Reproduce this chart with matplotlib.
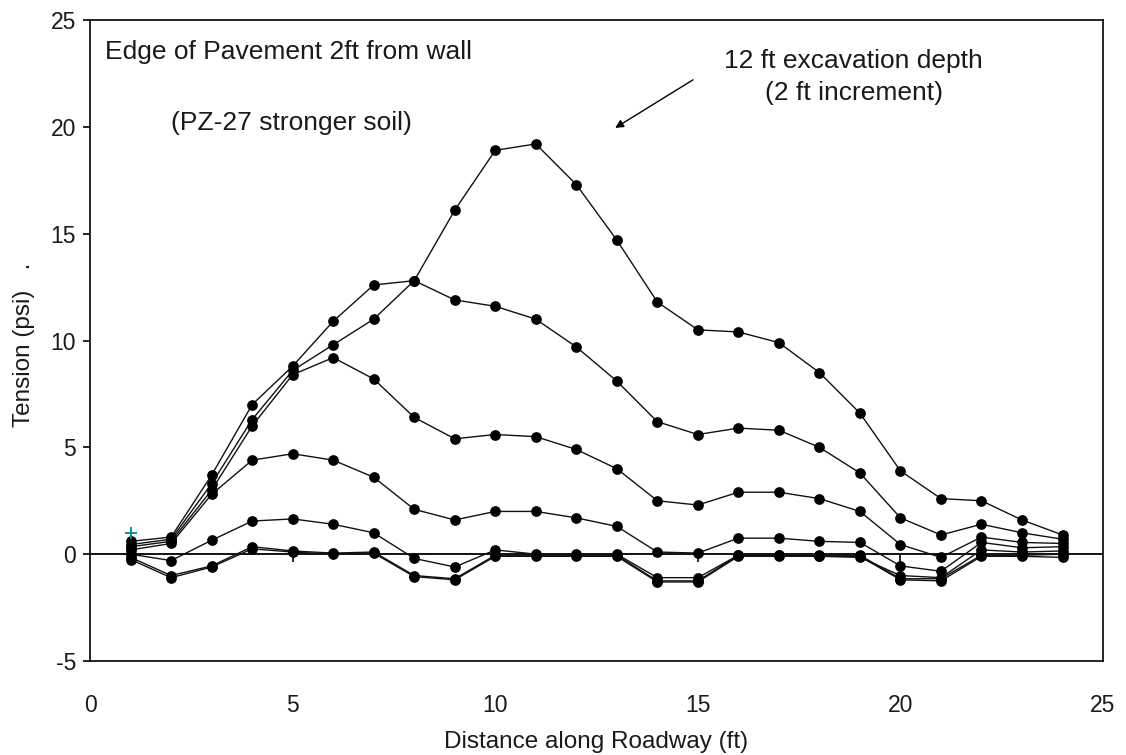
import matplotlib
matplotlib.use("Agg")
import matplotlib.pyplot as plt

plt.rcParams["font.family"] = ["Liberation Sans", "DejaVu Sans"]

# distance along roadway (ft)
distance = list(range(1, 25))

# tension (psi) for each excavation stage, 2 ft increments
tension_12ft = [0.6, 0.8, 3.7, 7.0, 8.8, 10.9, 12.6, 12.8, 16.1, 18.9, 19.2, 17.3,
                14.7, 11.8, 10.5, 10.4, 9.9, 8.5, 6.6, 3.9, 2.6, 2.5, 1.6, 0.9]
tension_10ft = [0.45, 0.7, 3.3, 6.3, 8.6, 9.8, 11.0, 12.8, 11.9, 11.6, 11.0, 9.7,
                8.1, 6.2, 5.6, 5.9, 5.8, 5.0, 3.8, 1.7, 0.9, 1.4, 1.0, 0.7]
tension_8ft = [0.35, 0.6, 3.0, 6.0, 8.4, 9.2, 8.2, 6.4, 5.4, 5.6, 5.5, 4.9,
               4.0, 2.5, 2.3, 2.9, 2.9, 2.6, 2.0, 0.45, -0.15, 0.8, 0.55, 0.5]
tension_6ft = [0.2, 0.5, 2.8, 4.4, 4.7, 4.4, 3.6, 2.1, 1.6, 2.0, 2.0, 1.7,
               1.3, 0.1, 0.05, 0.75, 0.75, 0.6, 0.55, -0.55, -0.8, 0.55, 0.3, 0.35]
tension_4ft = [0.0, -0.3, 0.65, 1.55, 1.65, 1.4, 1.0, -0.2, -0.6, 0.2, 0.0, 0.0,
               0.0, -1.1, -1.1, -0.05, -0.05, -0.1, -0.15, -1.0, -1.1, 0.2, 0.1, 0.15]
tension_2ft = [-0.15, -1.0, -0.55, 0.35, 0.15, 0.05, 0.1, -1.0, -1.15, -0.05, -0.05, -0.05,
               -0.05, -1.25, -1.25, -0.05, -0.05, -0.05, -0.05, -1.15, -1.15, -0.05, -0.05, 0.0]
tension_0ft = [-0.25, -1.1, -0.6, 0.25, 0.1, 0.0, 0.05, -1.05, -1.2, -0.1, -0.1, -0.1,
               -0.1, -1.3, -1.3, -0.1, -0.1, -0.1, -0.1, -1.2, -1.25, -0.1, -0.1, -0.15]
stages = [tension_12ft, tension_10ft, tension_8ft, tension_6ft,
          tension_4ft, tension_2ft, tension_0ft]

# single reference reading at the first station
ref_x = [1]
ref_y = [1.0]

fig = plt.figure(figsize=(11.26, 7.55), dpi=100)
ax = fig.add_axes([0.080, 0.1245, 0.8996, 0.849])

for vals in stages:
    ax.plot(distance, vals, color="#111111", lw=1.0, marker="o", ms=6.7,
            mfc="black", mec="black", zorder=3)
ax.plot(ref_x, ref_y, ls="none", marker="+", ms=8, mew=1.3, color="#008b8b",
        zorder=4)

ax.set_xlim(0, 25)
ax.set_ylim(-5, 25)
ax.set_yticks(range(-5, 26, 5))
ax.set_xticks(range(0, 26, 5))
ax.set_yticklabels([str(v) for v in range(-5, 26, 5)])

for sp in ax.spines.values():
    sp.set_linewidth(1.2)
    sp.set_color("black")

ax.tick_params(axis="y", direction="out", length=5, width=1.2, pad=5,
               labelsize=16.5, labelcolor="#1a1a1a")
ax.tick_params(axis="x", length=0, pad=24, labelsize=16.5,
               labelcolor="#1a1a1a")

# zero line with category ticks hanging below it
ax.axhline(0, color="black", lw=1.3, zorder=2)
zero_ax = ax.secondary_xaxis(1 / 6)
zero_ax.set_xticks(range(5, 25, 5))
zero_ax.tick_params(direction="out", length=6, width=1.2, labelbottom=False,
                    labeltop=False)
zero_ax.spines["bottom"].set_visible(False)
zero_ax.spines["top"].set_visible(False)

ax.set_xlabel("Distance along Roadway (ft)", fontsize=17.5, labelpad=10,
              color="#1a1a1a")
ax.set_ylabel("Tension (psi)   .", fontsize=17.5, color="#1a1a1a")
ax.yaxis.set_label_coords(-0.054, 0.494)

note_kw = dict(fontsize=19, color="#1a1a1a", va="center")
ax.text(0.38, 23.5, "Edge of Pavement 2ft from wall", ha="left", **note_kw)
ax.text(2.0, 20.2, "(PZ-27 stronger soil)", ha="left", **note_kw)
ax.text(18.85, 23.1, "12 ft excavation depth", ha="center", **note_kw)
ax.text(18.85, 21.6, "(2 ft increment)", ha="center", **note_kw)
ax.annotate("", xy=(12.96, 19.95), xytext=(14.88, 22.2),
            arrowprops=dict(arrowstyle="-|>", color="black", lw=1.0,
                            mutation_scale=12, shrinkA=0, shrinkB=0))

fig.savefig("out.png", dpi=100)
